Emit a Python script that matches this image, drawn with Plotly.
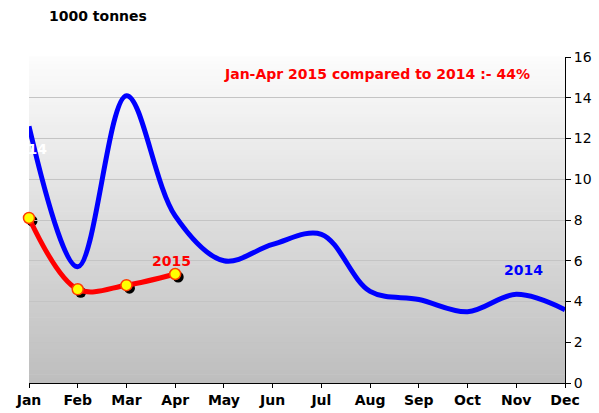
import plotly.graph_objects as go

# Monthly volumes, 1000 tonnes
months = ["Jan", "Feb", "Mar", "Apr", "May", "Jun",
          "Jul", "Aug", "Sep", "Oct", "Nov", "Dec"]
vol_2014 = [12.6, 5.7, 14.1, 8.2, 6.0, 6.8, 7.3, 4.5, 4.1, 3.5, 4.35, 3.6]
vol_2015 = [8.1, 4.6, 4.8, 5.35]
y_ticks = [0, 2, 4, 6, 8, 10, 12, 14, 16]

W, H = 599, 413
ML, MR, MT, MB = 29, 31, 57, 27
PW, PH = W - ML - MR, H - MT - MB
SHIFT = 3  # drop-shadow offset in px

x_idx = list(range(len(months)))
x15 = x_idx[:len(vol_2015)]

FONT = "DejaVu Sans"

fig = go.Figure()

# drop shadow of the 2015 markers (own subplot, offset down-right)
fig.add_trace(go.Scatter(
    x=x15, y=vol_2015, mode="markers", xaxis="x", yaxis="y",
    marker=dict(size=11, color="black"), cliponaxis=False,
    hoverinfo="skip", showlegend=False))

fig.add_trace(go.Scatter(
    x=x_idx, y=vol_2014, mode="lines", name="2014", xaxis="x2", yaxis="y2",
    line=dict(color="#0000ff", width=5, shape="spline", smoothing=1.0),
    cliponaxis=False, showlegend=False))

fig.add_trace(go.Scatter(
    x=x15, y=vol_2015, mode="lines+markers", name="2015", xaxis="x2", yaxis="y2",
    line=dict(color="#ff0000", width=5, shape="spline", smoothing=1.0),
    marker=dict(size=11, color="#ffff00", line=dict(color="#ff3c00", width=1.5)),
    cliponaxis=False, showlegend=False))

# vertical gradient for the plot area
n_strips = 80
top_rgb, bot_rgb = (252, 252, 252), (190, 190, 190)
shapes = []
for i in range(n_strips):
    t = (i + 0.5) / n_strips
    c = [round(top_rgb[k] + (bot_rgb[k] - top_rgb[k]) * t) for k in range(3)]
    shapes.append(dict(
        type="rect", xref="x2 domain", yref="y2 domain",
        x0=0, x1=1, y0=1 - (i + 1) / n_strips, y1=1 - i / n_strips + 0.002,
        fillcolor=f"rgb({c[0]},{c[1]},{c[2]})", line=dict(width=0),
        layer="below"))


def px(xp):
    return (xp - ML) / PW


def py(yp):
    return (H - MB - yp) / PH


annotations = [
    dict(text="<b>1000 tonnes</b>", xref="paper", yref="paper",
         x=px(47), y=py(16), xanchor="left", yanchor="middle",
         showarrow=False, font=dict(family=FONT, size=14, color="black")),
    dict(text="<b>Jan-Apr 2015 compared to 2014 :- 44%</b>", xref="paper", yref="paper",
         x=px(377), y=py(74), xanchor="center", yanchor="middle",
         showarrow=False, font=dict(family=FONT, size=14, color="#ff0000")),
    dict(text="<b>2015</b>", xref="x2", yref="y2", x=2.93, y=6.0,
         xanchor="center", yanchor="middle", showarrow=False,
         font=dict(family=FONT, size=14, color="#ff0000")),
    dict(text="<b>2014</b>", xref="x2", yref="y2", x=10.15, y=5.55,
         xanchor="center", yanchor="middle", showarrow=False,
         font=dict(family=FONT, size=14, color="#0000ff")),
    dict(text="<b>2014</b>", xref="paper", yref="paper",
         x=px(49), y=py(149), xanchor="right", yanchor="middle",
         showarrow=False, font=dict(family=FONT, size=14, color="white")),
]

d_x = SHIFT / PW
d_y = SHIFT / PH

fig.update_layout(
    width=W, height=H,
    margin=dict(l=ML, r=MR, t=MT, b=MB, pad=0, autoexpand=False),
    paper_bgcolor="white", plot_bgcolor="rgba(0,0,0,0)",
    showlegend=False,
    shapes=shapes, annotations=annotations,
    xaxis=dict(domain=[d_x, 1], anchor="y", range=[0, 11], visible=False,
               fixedrange=True, automargin=False),
    yaxis=dict(domain=[0, 1 - d_y], anchor="x", range=[0, 16], visible=False,
               fixedrange=True, automargin=False),
    xaxis2=dict(domain=[0, 1 - d_x], anchor="y2", range=[0, 11],
                tickvals=x_idx, ticktext=[f"<b>{m}</b>" for m in months],
                showline=True, linecolor="black", linewidth=1,
                ticks="outside", ticklen=4, tickcolor="black",
                showgrid=False, zeroline=False, automargin=False,
                tickfont=dict(family=FONT, size=14, color="black")),
    yaxis2=dict(domain=[d_y, 1], anchor="x2", side="right", range=[0, 16],
                tickvals=y_ticks, showline=True, linecolor="black", linewidth=1,
                ticks="outside", ticklen=5, tickcolor="black",
                showgrid=True, gridcolor="#c4c4c4", gridwidth=1,
                zeroline=False, automargin=False,
                tickfont=dict(family=FONT, size=14, color="black")),
)

fig.write_html("out.html")
